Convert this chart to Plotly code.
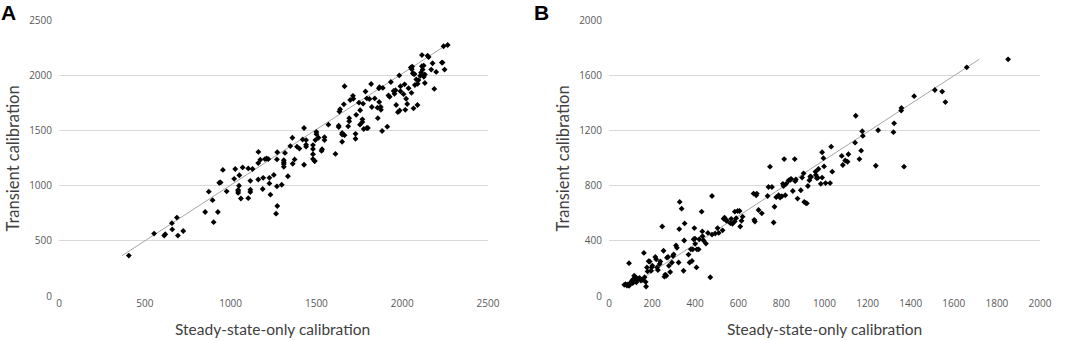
import plotly.graph_objects as go

# ---------------- Panel A data ----------------
a_steady = [407, 554, 613, 619, 658, 660, 687, 693, 724,
            852, 873, 895, 901, 926, 934, 942, 955, 977, 1021, 1027, 1044, 1044, 1044,
            1051, 1049, 1060, 1070, 1103, 1103, 1115, 1115, 1115, 1128, 1162, 1161, 1161,
            1173, 1187, 1190, 1200, 1210, 1220, 1226, 1226, 1232, 1252, 1265, 1272, 1270,
            1272, 1270, 1298, 1310, 1310, 1310, 1310, 1317, 1334, 1348, 1360, 1362, 1373,
            1387, 1401, 1420, 1428, 1428, 1440, 1440, 1440, 1480, 1480, 1480, 1480, 1494,
            1500, 1500, 1490, 1490, 1512, 1530, 1533, 1547, 1547, 1570, 1611, 1630, 1630,
            1634, 1638, 1650, 1650, 1650, 1660, 1664, 1664, 1685, 1691, 1691, 1697, 1713,
            1715, 1728, 1728, 1732, 1748, 1754, 1755, 1768, 1768, 1772, 1776, 1786, 1794,
            1794, 1800, 1809, 1819, 1823, 1840, 1856, 1858, 1864, 1868, 1866, 1875, 1876,
            1883, 1887, 1913, 1920, 1927, 1934, 1950, 1955, 1961, 1965, 1975, 1985, 1983,
            1990, 1990, 2008, 2014, 2018, 2023, 2029, 2037, 2050, 2058, 2054, 2056, 2062,
            2066, 2072, 2066, 2074, 2082, 2089, 2090, 2095, 2105, 2110, 2115, 2115, 2119,
            2125, 2126, 2132, 2132, 2148, 2154, 2177, 2169, 2187, 2198, 2231, 2235, 2247,
            2241, 2265]
a_transient = [366, 565, 547, 559, 660, 603, 710, 547, 589,
               761, 945, 868, 669, 761, 1026, 1029, 1142, 948, 1061, 1150, 960, 934, 950,
               1094, 999, 883, 1165, 886, 1156, 1043, 963, 942, 1150, 1305, 1204, 1055,
               1234, 969, 1070, 1240, 1245, 1240, 1070, 1020, 918, 1097, 746, 815, 1237,
               1302, 993, 1008, 1230, 1212, 1171, 1195, 1296, 1085, 1358, 1433, 1198, 1237,
               1353, 1335, 1418, 1522, 1189, 1353, 1370, 1412, 1367, 1332, 1284, 1240, 1412,
               1486, 1466, 1222, 1222, 1433, 1314, 1329, 1439, 1412, 1552, 1287, 1531, 1543,
               1671, 1692, 1477, 1462, 1397, 1736, 1900, 1457, 1537, 1611, 1582, 1775, 1813,
               1787, 1469, 1424, 1641, 1751, 1552, 1683, 1600, 1576, 1742, 1513, 1852, 1790,
               1522, 1522, 1784, 1920, 1712, 1790, 1706, 1611, 1882, 1891, 1757, 1712, 1686,
               1495, 1885, 1534, 1816, 1804, 1938, 1858, 1831, 1864, 1730, 1665, 1680, 1998,
               1900, 1855, 1828, 1917, 1686, 1787, 1739, 1882, 2069, 2078, 1840, 2054, 2018,
               2012, 2010, 1700, 1911, 1962, 1730, 1923, 1956, 1995, 2024, 2081, 2182, 2051,
               2087, 1986, 2007, 1929, 2176, 2164, 2108, 2051, 1876, 2030, 2114, 2114, 2051,
               2262, 2274]

# ---------------- Panel B data ----------------
b_steady = [71, 77, 83, 88, 93, 96, 99, 104, 107, 110, 114, 117, 121, 124, 127, 130, 93, 136,
            142, 148, 155, 162, 165, 170, 172, 176, 179, 184, 189, 195, 198, 201, 215, 219,
            223, 227, 235, 238, 247, 253, 257, 261, 266, 269, 274, 278, 284, 292, 297, 300,
            311, 315, 323, 326, 328, 337, 346, 349, 351, 369, 374, 380, 385, 389, 393, 396,
            399, 400, 406, 408, 416, 419, 430, 433, 434, 439, 450, 459, 470, 478, 478, 493,
            504, 509, 527, 532, 536, 543, 547, 563, 567, 573, 583, 584, 590, 597, 606, 609,
            615, 620, 671, 674, 677, 683, 686, 694, 709, 736, 740, 747, 756, 764, 768, 776,
            787, 794, 802, 807, 810, 813, 818, 822, 833, 841, 845, 853, 862, 864, 867, 875,
            890, 896, 903, 906, 912, 918, 923, 930, 934, 938, 958, 960, 964, 969, 972, 983,
            989, 989, 995, 998, 1005, 1026, 1031, 1036, 1080, 1085, 1096, 1107, 1111, 1142,
            1145, 1162, 1170, 1175, 1178, 1238, 1249, 1320, 1323, 1356, 1357, 1369, 1416,
            1512, 1546, 1561, 1660, 1852]
b_transient = [81, 86, 76, 83, 74, 88, 93, 100, 112, 93, 124, 147, 112, 136, 100, 121, 238, 124,
               131, 112, 117, 312, 136, 102, 69, 207, 178, 252, 250, 183, 207, 219, 283, 266,
               207, 188, 231, 250, 504, 328, 140, 155, 147, 278, 283, 219, 174, 243, 290, 302,
               366, 350, 243, 485, 682, 633, 183, 402, 526, 300, 243, 338, 254, 338, 411, 492,
               416, 378, 207, 338, 338, 411, 611, 468, 433, 402, 380, 457, 136, 725, 445, 452,
               492, 457, 476, 559, 568, 549, 545, 528, 559, 523, 540, 611, 564, 616, 616, 504,
               545, 575, 742, 552, 540, 730, 742, 623, 599, 725, 790, 937, 790, 533, 647, 716,
               730, 713, 723, 813, 797, 992, 730, 813, 837, 842, 849, 761, 992, 832, 844, 706,
               766, 858, 889, 682, 675, 671, 797, 839, 866, 863, 901, 877, 854, 856, 920, 813,
               858, 1042, 999, 939, 818, 818, 1082, 901, 1015, 949, 982, 973, 1027, 1111,
               1306, 992, 1053, 1194, 1160, 944, 1201, 1187, 1251, 1344, 1363, 937, 1448,
               1493, 1481, 1405, 1657, 1715]

# trend lines: slope, intercept, x extent
a_fit = {"slope": 1.01, "intercept": -6, "x_from": 368, "x_to": 2270}
b_fit = {"slope": 1.016, "intercept": -30, "x_from": 99, "x_to": 1719}

a_xticks = [0, 500, 1000, 1500, 2000, 2500]
a_yticks = [0, 500, 1000, 1500, 2000, 2500]
b_xticks = [0, 200, 400, 600, 800, 1000, 1200, 1400, 1600, 1800, 2000]
b_yticks = [0, 400, 800, 1200, 1600, 2000]

x_title = "Steady-state-only calibration"
y_title = "Transient calibration"

FONT = "Lato, Open Sans, sans-serif"
marker = dict(symbol="diamond", size=4.5, color="#000000", line=dict(width=0))
line_style = dict(color="#a6a6a6", width=1)


def fit_line(f):
    xs = [f["x_from"], f["x_to"]]
    return xs, [f["slope"] * x + f["intercept"] for x in xs]


fig = go.Figure()
lx, ly = fit_line(a_fit)
fig.add_trace(go.Scatter(x=lx, y=ly, mode="lines", line=line_style, xaxis="x", yaxis="y",
                         showlegend=False, hoverinfo="skip"))
fig.add_trace(go.Scatter(x=a_steady, y=a_transient, mode="markers", marker=marker,
                         xaxis="x", yaxis="y", showlegend=False))
lx, ly = fit_line(b_fit)
fig.add_trace(go.Scatter(x=lx, y=ly, mode="lines", line=line_style, xaxis="x2", yaxis="y2",
                         showlegend=False, hoverinfo="skip"))
fig.add_trace(go.Scatter(x=b_steady, y=b_transient, mode="markers", marker=marker,
                         xaxis="x2", yaxis="y2", showlegend=False))

W, H = 1065, 340
L, T = 59, 15
R = W - 1040
B = H - 296
pw = W - L - R
ph = H - T - B


def px_x(p):
    return (p - L) / pw


def px_y(p):
    return (H - B - p) / ph


split1 = px_x(488)
split2 = px_x(609)

tickfont = dict(family="Open Sans, sans-serif", size=10, color="#595959")
common_x = dict(showgrid=False, zeroline=False, showline=False, ticks="", tickfont=tickfont,
                tickmode="array")
common_y = dict(showgrid=True, gridcolor="#d9d9d9", gridwidth=1, zeroline=False, showline=False,
                ticks="", tickfont=tickfont, tickmode="array", ticklabelstandoff=6)

fig.update_layout(
    width=W, height=H,
    margin=dict(l=L, r=R, t=T, b=B),
    paper_bgcolor="white", plot_bgcolor="white",
    font=dict(family=FONT),
    xaxis=dict(domain=[0, split1], range=[0, 2500], tickvals=a_xticks, anchor="y", **common_x),
    yaxis=dict(domain=[0, 1], range=[0, 2500], tickvals=a_yticks, anchor="x", **common_y),
    xaxis2=dict(domain=[split2, 1], range=[0, 2000], tickvals=b_xticks, anchor="y2", **common_x),
    yaxis2=dict(domain=[0, 1], range=[0, 2000], tickvals=b_yticks, anchor="x2", **common_y),
)

xt_font = dict(family=FONT, size=15.5, color="#404040")
yt_font = dict(family=FONT, size=16.5, color="#404040")

# x titles
fig.add_annotation(text=x_title, xref="paper", yref="paper", x=px_x(272), y=px_y(330),
                   showarrow=False, font=xt_font, xanchor="center", yanchor="middle")
fig.add_annotation(text=x_title, xref="paper", yref="paper", x=px_x(824), y=px_y(330),
                   showarrow=False, font=xt_font, xanchor="center", yanchor="middle")
# y titles
fig.add_annotation(text=y_title, xref="paper", yref="paper", x=px_x(13), y=px_y(156),
                   showarrow=False, font=yt_font, textangle=-90, xanchor="center", yanchor="middle")
fig.add_annotation(text=y_title, xref="paper", yref="paper", x=px_x(563), y=px_y(156),
                   showarrow=False, font=yt_font, textangle=-90, xanchor="center", yanchor="middle")
# panel letters
letter_font = dict(family="Liberation Sans, Arial, sans-serif", size=21, color="#000000")
fig.add_annotation(text="<b>A</b>", xref="paper", yref="paper", x=px_x(-1), y=px_y(-6),
                   showarrow=False, font=letter_font, xanchor="left", yanchor="top")
fig.add_annotation(text="<b>B</b>", xref="paper", yref="paper", x=px_x(532), y=px_y(-6),
                   showarrow=False, font=letter_font, xanchor="left", yanchor="top")

# remove the browser's default 8px body margin so the figure sits at the page origin
fig.write_html("out.html", config={"displayModeBar": False},
               post_script="document.body.style.margin='0';document.body.style.overflow='hidden';")
